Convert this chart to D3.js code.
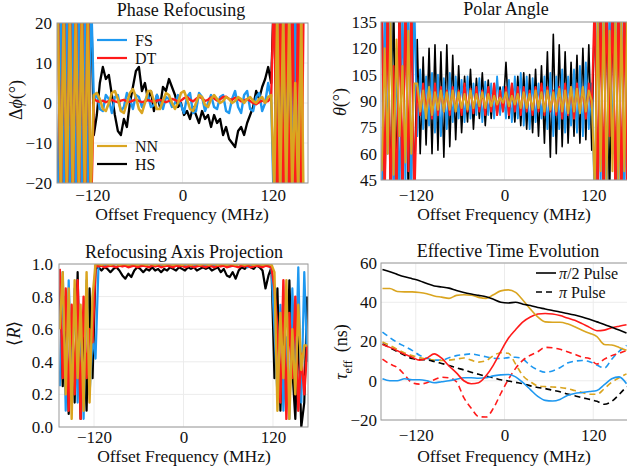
<!DOCTYPE html>
<html>
<head>
<meta charset="utf-8">
<script src="https://cdn.jsdelivr.net/npm/d3@7"></script>
<style>
  body { margin: 0; background: #fff; }
  text { font-family: "Liberation Serif", "Times New Roman", serif; fill: #111; }
  .tick text { font-family: "Liberation Serif", "Times New Roman", serif; font-size: 17px; fill: #111; }
</style>
</head>
<body>
<svg id="chart" width="627" height="474"></svg>
<script>
// sample grid (MHz), 4 MHz steps for the phase / angle / projection panels
const freq = d3.range(-166, 167, 4);
// coarser grid for the smooth effective-time curves
const freqTime = d3.range(-165, 166, 10);

const freqTicks = [-120, 0, 120];

// ---- Phase refocusing, delta phi (deg)
const fsPhase = [
  -30, 30, -30, 30, -30, 30, -30, 30, -30, 30, -30, 30,
  0.5, 2.5, -1.5, -2, 2, 1, -2.5, 1.5, 2, -2, -1, 2.5,
  1, -1.5, 2, 1.5, -1, 0.5, 2, -1, -0.5, 2, 0, -1.5,
  1.5, 1, -1, 0, 2, -0.5, -2.5, 1.5, 2.5, -2.5, -2, 2.5,
  1.5, -2, 0, 2, -1, -1.5, 1.5, 2, -2, -2.5, 1, 3,
  -1, -2.5, 2, 3, -1.5, -2, 1.5, 2.5, -2, 0, 5, 1,
  -30, 30, -30, 30, -30, 30, -30, 30, -30, 30, 40, 40
];
const dtPhase = [
  30, -30, 30, -30, 30, -30, 30, -30, 30, -30, 30, -30,
  1, 0.5, 0.3, 0.6, 0.2, 0.5, 0.8, 0.4, 0.2, 0.6, 0.8, 0.4,
  0.3, 0.6, 0.9, 0.5, 0.2, 0.4, 0.7, 0.5, 0.3, 0.6, 0.8, 0.5,
  0.2, 0.5, 1, 0.8, 0.3, 0.6, 1.2, 1.5, 0.8, 0.4, 1, 1.6,
  1.2, 0.5, 0.8, 1.4, 1.2, 0.6, 0.9, 1.5, 1.6, 1, 0.8, 1.3,
  1, 0.4, 0.6, 1, 0.5, 0, -0.3, 0.2, 0.6, 0.3, 0.5, 1.5,
  30, -30, 30, -30, 30, -30, 30, -30, 30, -30, 40, 40
];
const nnPhase = [
  22, -22, 22, -22, 22, -22, 22, -22, 22, -22, 22, -22,
  2, 2.5, 1, -1.5, -2, 0, 2.5, 3, 1, -2, -2.5, 0,
  2.5, 3.5, 1.5, -1.5, -2.5, 0, 3, 3, 0.5, -1.5, -1.5, 0.5,
  2.5, 2, 0, -1.5, 0, 2.5, 3, 1, -1.5, -2, 0, 2,
  1.5, -0.5, -1, 1, 2, 1, 0, 0.5, 1.5, 1, 0, 0.5,
  1.5, 1, 0, 1, 1.5, 0.5, 0, 1, 1.5, 0, 1.5, 2,
  -22, 22, -22, 22, -22, 22, -22, 5, -22, 22, -40, -40
];
const hsPhase = [
  -30, 30, -30, 30, -30, 30, -30, 30, -30, 30, -30, 30,
  -8, -3, 5, 9, 6, 7, 2, -3, -7, -8, -4, -6,
  0, 4, 8, 9, 3, 5, 1, 3, -2, 2, -1, 4,
  3, 6, 4, 2, -1, 0, -3, -2, -4, -1, -3, -5,
  -2, -4, -3, -6, -3, -5, -4, -8, -6, -9, -10, -11,
  -7, -6, -8, -5, -3, -1, 3, 1, 4, 6, 9, 5,
  30, -30, 30, -30, 30, -30, 30, -30, 40, 40, 40, 40
];

// ---- Polar angle, theta (deg)
const fsPolar = [
  30, 150, 60, 150, 30, 120, 30, 150, 40, 150, 30, 150,
  70, 108, 74, 104, 76, 106, 72, 105, 70, 103, 74, 106,
  78, 104, 80, 102, 78, 104, 80, 100, 82, 103, 78, 101,
  82, 100, 80, 104, 82, 98, 80, 102, 78, 104, 80, 106,
  76, 104, 74, 103, 78, 100, 80, 104, 74, 106, 70, 104,
  74, 108, 72, 104, 76, 108, 72, 110, 70, 112, 74, 100,
  30, 150, 40, 150, 30, 150, 60, 150, 30, 150, 30, 150
];
const dtPolar = [
  150, 30, 150, 30, 110, 30, 150, 30, 150, 50, 150, 30,
  98, 82, 100, 84, 96, 80, 100, 82, 98, 84, 96, 82,
  98, 84, 96, 82, 100, 84, 97, 83, 98, 84, 96, 82,
  98, 84, 100, 82, 96, 84, 98, 82, 100, 84, 98, 82,
  98, 84, 96, 82, 98, 84, 100, 82, 98, 84, 96, 82,
  98, 80, 100, 82, 98, 80, 100, 84, 98, 80, 100, 86,
  150, 30, 150, 30, 150, 70, 150, 30, 150, 30, 150, 30
];
const nnPolar = [
  50, 120, 60, 135, 48, 125, 70, 110, 55, 130, 60, 100,
  100, 84, 96, 80, 98, 82, 95, 85, 96, 84, 95, 85,
  96, 84, 95, 86, 94, 85, 96, 86, 94, 87, 95, 86,
  94, 87, 93, 88, 92, 89, 95, 87, 93, 88, 94, 86,
  95, 86, 94, 85, 96, 86, 95, 84, 96, 85, 95, 84,
  97, 84, 96, 83, 98, 84, 97, 83, 98, 84, 96, 90,
  40, 135, 50, 140, 45, 130, 50, 140, 45, 135, 50, 140
];
const hsPolar = [
  150, 30, 150, 30, 150, 40, 150, 30, 150, 30, 150, 30,
  125, 60, 115, 65, 120, 60, 122, 62, 118, 58, 122, 64,
  116, 68, 110, 72, 104, 78, 108, 74, 103, 80, 106, 76,
  102, 80, 100, 82, 98, 84, 112, 80, 100, 78, 104, 76,
  106, 74, 105, 72, 108, 70, 110, 66, 118, 58, 128, 60,
  122, 64, 118, 66, 112, 70, 116, 66, 120, 68, 122, 62,
  150, 30, 150, 30, 150, 30, 150, 30, 150, 30, 150, 30
];

// ---- Refocusing axis projection <R>
const fsProj = [
  0.25, 0.95, 0.1, 0.9, 0.3, 0.85, 0.15, 0.7, 0.05, 0.9, 0.2, 0.55,
  0.42, 0.99, 0.995, 0.99, 1, 0.99, 0.995, 1, 0.99, 0.995, 1, 0.99,
  0.995, 0.99, 1, 0.995, 0.99, 0.995, 1, 0.99, 0.995, 1, 0.995, 0.99,
  1, 0.995, 0.99, 0.995, 1, 0.99, 0.995, 1, 0.99, 0.985, 0.995, 1,
  0.99, 0.995, 1, 0.99, 0.995, 1, 0.99, 0.995, 1, 0.985, 0.99, 0.995,
  1, 0.99, 0.995, 0.98, 0.99, 1, 0.995, 0.99, 0.995, 0.99, 0.99, 0.97,
  0.6, 0.2, 0.75, 0.1, 0.55, 0.05, 0.85, 0.3, 0.98, 0.15, 0.95, 0.4
];
const dtProj = [
  0.97, 0.3, 0.85, 0.1, 0.75, 0.2, 0.9, 0.05, 0.8, 0.3, 0.6, 0.52,
  0.99, 0.985, 0.99, 0.98, 0.985, 0.99, 0.985, 0.98, 0.99, 0.985, 0.99, 0.98,
  0.985, 0.99, 0.98, 0.985, 0.99, 0.985, 0.98, 0.99, 0.985, 0.99, 0.98, 0.985,
  0.99, 0.985, 0.98, 0.99, 0.985, 0.99, 0.98, 0.985, 0.99, 0.98, 0.985, 0.99,
  0.985, 0.98, 0.99, 0.985, 0.98, 0.99, 0.985, 0.99, 0.98, 0.985, 0.99, 0.985,
  0.98, 0.99, 0.985, 0.99, 0.98, 0.985, 0.99, 0.985, 0.98, 0.99, 0.985, 0.98,
  0.85, 0.6, 0.15, 0.9, 0.05, 0.7, 0.3, 0.8, 0.1, 0.45, 0.2, 0.5
];
const nnProj = [
  0.6, 0.95, 0.2, 0.85, 0.05, 0.9, 0.3, 0.75, 0.1, 0.95, 0.15, 0.8,
  1, 1, 0.995, 1, 1, 0.995, 1, 1, 0.995, 1, 1, 0.995,
  1, 1, 0.995, 1, 1, 0.995, 1, 1, 0.995, 1, 1, 0.995,
  1, 1, 0.995, 1, 1, 0.995, 1, 1, 0.995, 1, 1, 0.995,
  1, 1, 0.995, 1, 1, 0.995, 1, 1, 0.995, 1, 1, 0.995,
  1, 1, 0.995, 1, 1, 0.995, 1, 1, 0.995, 1, 1, 0.995,
  0.95, 0.1, 0.7, 0.3, 0.9, 0.05, 0.6, 0.2, 0.75, 0.35, 0.5, 0.5
];
const hsProj = [
  0.9, 0.25, 0.8, 0.08, 0.7, 0.15, 0.95, 0.05, 0.6, 0.1, 0.85, 0.3,
  0.97, 0.98, 0.96, 0.98, 0.97, 0.95, 0.97, 0.98, 0.96, 0.93, 0.91, 0.94,
  0.92, 0.96, 0.98, 0.97, 0.95, 0.97, 0.96, 0.98, 0.96, 0.97, 0.95, 0.97,
  0.96, 0.98, 0.97, 0.96, 0.98, 0.97, 0.96, 0.98, 0.97, 0.98, 0.96, 0.97,
  0.98, 0.97, 0.98, 0.96, 0.97, 0.98, 0.95, 0.97, 0.93, 0.92, 0.95, 0.91,
  0.96, 0.98, 0.97, 0.99, 0.98, 0.97, 0.99, 0.98, 0.96, 0.85, 0.93, 0.98,
  0.3, 0.85, 0.1, 0.7, 0.2, 0.9, 0.35, 0.05, 0.6, 0, 0.15, 0.8
];

// ---- Effective time evolution, tau_eff (ns); "half" = pi/2 pulse, "full" = pi pulse
const hsHalf = [56.7, 55.5, 54.2, 53, 52, 51, 49.5, 48.3, 47.8, 47.2, 46, 45, 44.2, 43.5, 42.8, 41.5, 40,
  39.6, 40, 39, 38.3, 37.3, 36.6, 35.8, 35, 34.3, 33.5, 32.5, 31.3, 30, 28.7, 27.2, 25.8, 24.3];
const nnHalf = [47, 47, 45.5, 45.3, 45.3, 45, 44.3, 43.2, 42.6, 42, 43.5, 43.8, 43.6, 42.5, 42, 43.8, 45.8,
  46.3, 45, 41, 36.5, 32.5, 30, 29.8, 29.8, 29, 27.5, 25.7, 24.2, 22.5, 18.5, 18.2, 17, 15.5];
const dtHalf = [18.5, 17, 15.3, 13.5, 12, 10.5, 11.5, 13.7, 11.5, 7.5, 4, 0, -1.5, -1, 2.5, 8, 15,
  21.5, 26, 30, 32.5, 34, 34.3, 34, 33.2, 32, 30.8, 29.1, 27.2, 25.5, 25.8, 27, 27.8, 28.5];
const fsHalf = [1, 0, 0, 1, 0.5, 0.5, 0, -1, -0.5, 0, 0.8, 1.5, 1.5, 1.3, 1.5, 2.5, 3,
  3.2, 2, -1, -4.5, -8, -10, -10.3, -9.5, -7.5, -6.5, -6, -5.5, -5, -2, 1, 2, -1.5];
const fsFull = [24.8, 22, 19.5, 17.5, 15.5, 13, 11.5, 10.5, 10.5, 11.7, 12.8, 13.3, 13.7, 13, 12.2, 11.5, 11.3,
  11.8, 12, 11, 7.7, 5.5, 4.3, 5, 6.6, 9, 10, 10.3, 9.7, 8, 6.5, 11, 15, 18];
const nnFull = [19.7, 18, 16, 14.2, 12.8, 11.8, 11, 10.5, 10.3, 10.5, 11, 11.6, 10.5, 9.5, 10.2, 12.8, 14.3,
  14, 8.5, 2.5, -0.5, -2.6, -3, -3.2, -3.4, -4, -5, -6, -6.9, -6.9, -4, -0.8, 1.5, 3.5];
const hsFull = [18.8, 16.8, 14.8, 13, 11.3, 10.8, 10.6, 9.8, 8.8, 7.8, 6.6, 5.5, 4.3, 3.3, 2.3, 1.5, 0.5,
  -0.1, -0.8, -1.5, -2.6, -3.4, -4, -4.8, -5.6, -6.7, -7.6, -8.6, -9.5, -10.5, -12, -10.5, -7, -3];
const dtFull = [11, 8.5, 6.8, 3, -1, -1.7, -1, 0.5, 1.8, 1.5, -0.5, -8.6, -14, -18.3, -18.5, -14, -6.5,
  0.5, 6.3, 10.5, 13, 14.8, 17, 16.8, 16, 14.8, 13.5, 12, 11.3, 8.5, 11, 12.8, 14, 15.5];

const BLUE = '#1e98f0', RED = '#ff1a1a', GOLD = '#daa520', BLACK = '#000';

const svg = d3.select('#chart');

function panel(cfg) {
  const g = svg.append('g');
  const x = d3.scaleLinear().domain([-167, 167]).range([cfg.left, cfg.right]);
  const y = d3.scaleLinear().domain(cfg.yDomain).range([cfg.bottom, cfg.top]);

  const clipId = 'clip-' + cfg.id;
  svg.append('clipPath').attr('id', clipId)
    .append('rect')
    .attr('x', cfg.left).attr('y', cfg.top)
    .attr('width', cfg.right - cfg.left).attr('height', cfg.bottom - cfg.top);

  // grid
  g.selectAll('line.vg').data(freqTicks).enter().append('line')
    .attr('x1', d => x(d)).attr('x2', d => x(d))
    .attr('y1', cfg.top).attr('y2', cfg.bottom)
    .attr('stroke', '#ececec');
  g.selectAll('line.hg').data(cfg.yTicks).enter().append('line')
    .attr('y1', d => y(d)).attr('y2', d => y(d))
    .attr('x1', cfg.left).attr('x2', cfg.right)
    .attr('stroke', '#ececec');

  // data
  const plot = g.append('g').attr('clip-path', `url(#${clipId})`);
  cfg.series.forEach(s => {
    const line = d3.line()
      .x((d, i) => x(s.freq[i]))
      .y(d => y(d))
      .curve(s.curve || d3.curveLinear);
    plot.append('path')
      .datum(s.values)
      .attr('d', line)
      .attr('fill', 'none')
      .attr('stroke', s.color)
      .attr('stroke-width', s.width || 2)
      .attr('stroke-linejoin', 'round')
      .attr('stroke-dasharray', s.dash || null);
  });

  // box
  g.append('rect')
    .attr('x', cfg.left).attr('y', cfg.top)
    .attr('width', cfg.right - cfg.left).attr('height', cfg.bottom - cfg.top)
    .attr('fill', 'none').attr('stroke', '#9a9a9a');

  // axes
  g.append('g')
    .attr('transform', `translate(0,${cfg.bottom})`)
    .call(d3.axisBottom(x).tickValues(freqTicks).tickSize(0).tickPadding(cfg.xPad))
    .call(a => a.select('.domain').remove());
  g.append('g')
    .attr('transform', `translate(${cfg.left},0)`)
    .call(d3.axisLeft(y).tickValues(cfg.yTicks).tickFormat(cfg.yFormat).tickSize(0).tickPadding(cfg.yPad))
    .call(a => a.select('.domain').remove());

  // titles
  g.append('text')
    .attr('x', cfg.titleX).attr('y', cfg.titleY)
    .attr('text-anchor', 'middle').style('font-size', '18px')
    .text(cfg.title);
  g.append('text')
    .attr('x', cfg.xLabelX).attr('y', cfg.xLabelY)
    .attr('text-anchor', 'middle').style('font-size', '17.5px')
    .text('Offset Frequency (MHz)');

  const yl = g.append('text')
    .attr('transform', `translate(${cfg.yLabelPos[0]},${cfg.yLabelPos[1]}) rotate(-90)`)
    .attr('text-anchor', 'middle')
    .attr('dominant-baseline', 'central')
    .style('font-size', '18px');
  cfg.yLabel(yl);

  return { g, x, y };
}

// Phase refocusing
const p1 = panel({
  id: 'p1', left: 57, right: 308, top: 23, bottom: 183,
  yDomain: [-20, 20], yTicks: [-20, -10, 0, 10, 20], yFormat: d3.format('d'),
  xPad: 6, yPad: 5,
  title: 'Phase Refocusing', titleX: 181, titleY: 16,
  xLabelX: 182, xLabelY: 220,
  yLabelPos: [16, 100],
  yLabel: t => {
    t.append('tspan').text('Δ');
    t.append('tspan').style('font-style', 'italic').text('ϕ');
    t.append('tspan').text('(°)');
  },
  series: [
    { freq, values: hsPhase, color: BLACK, width: 2.3 },
    { freq, values: fsPhase, color: BLUE, width: 2.4 },
    { freq, values: dtPhase, color: RED, width: 2.4 },
    { freq, values: nnPhase, color: GOLD, width: 2.6 }
  ]
});

// legend for phase panel
const legend1 = [
  { name: 'FS', color: BLUE, y: 40 },
  { name: 'DT', color: RED, y: 58 },
  { name: 'NN', color: GOLD, y: 146 },
  { name: 'HS', color: BLACK, y: 164 }
];
legend1.forEach(d => {
  p1.g.append('line')
    .attr('x1', 97).attr('x2', 127).attr('y1', d.y).attr('y2', d.y)
    .attr('stroke', d.color).attr('stroke-width', 2.2);
  p1.g.append('text')
    .attr('x', 135).attr('y', d.y)
    .attr('dominant-baseline', 'central')
    .style('font-size', '16px')
    .text(d.name);
});

// Polar angle
panel({
  id: 'p2', left: 381, right: 628, top: 22, bottom: 180,
  yDomain: [45, 135], yTicks: [45, 60, 75, 90, 105, 120, 135], yFormat: d3.format('d'),
  xPad: 9, yPad: 4,
  title: 'Polar Angle', titleX: 506, titleY: 15,
  xLabelX: 504, xLabelY: 220,
  yLabelPos: [340, 102],
  yLabel: t => {
    t.append('tspan').style('font-style', 'italic').text('θ');
    t.append('tspan').text('(°)');
  },
  series: [
    { freq, values: hsPolar, color: BLACK, width: 1.6 },
    { freq, values: fsPolar, color: BLUE, width: 1.8 },
    { freq, values: dtPolar, color: RED },
    { freq, values: nnPolar, color: GOLD }
  ]
});

// Refocusing axis projection
panel({
  id: 'p3', left: 59, right: 308, top: 264, bottom: 427,
  yDomain: [0, 1], yTicks: [0, 0.2, 0.4, 0.6, 0.8, 1], yFormat: d3.format('.1f'),
  xPad: 4, yPad: 6,
  title: 'Refocusing Axis Projection', titleX: 184, titleY: 258,
  xLabelX: 184, xLabelY: 462,
  yLabelPos: [14, 333],
  yLabel: t => {
    t.append('tspan').text('⟨');
    t.append('tspan').style('font-style', 'italic').text('R');
    t.append('tspan').text('⟩');
  },
  series: [
    { freq, values: hsProj, color: BLACK, width: 2.2 },
    { freq, values: fsProj, color: BLUE, width: 2.2 },
    { freq, values: dtProj, color: RED, width: 2.4 },
    { freq, values: nnProj, color: GOLD, width: 2.4 }
  ]
});

// Effective time evolution
const p4 = panel({
  id: 'p4', left: 381, right: 628, top: 263, bottom: 420,
  yDomain: [-20, 60], yTicks: [-20, 0, 20, 40, 60], yFormat: d3.format('d'),
  xPad: 9, yPad: 4,
  title: 'Effective Time Evolution', titleX: 508, titleY: 257,
  xLabelX: 504, xLabelY: 462,
  yLabelPos: [341, 352],
  yLabel: t => {
    t.append('tspan').style('font-style', 'italic').text('τ');
    t.append('tspan').attr('baseline-shift', 'sub').style('font-size', '12px').text('eff');
    t.append('tspan').text('\u2009 (ns)');
  },
  series: [
    { freq: freqTime, values: fsFull, color: BLUE, dash: '6,4', width: 1.6, curve: d3.curveMonotoneX },
    { freq: freqTime, values: nnFull, color: GOLD, dash: '6,4', width: 1.6, curve: d3.curveMonotoneX },
    { freq: freqTime, values: hsFull, color: BLACK, dash: '6,4', width: 1.6, curve: d3.curveMonotoneX },
    { freq: freqTime, values: dtFull, color: RED, dash: '6,4', width: 1.6, curve: d3.curveMonotoneX },
    { freq: freqTime, values: fsHalf, color: BLUE, width: 1.6, curve: d3.curveMonotoneX },
    { freq: freqTime, values: dtHalf, color: RED, width: 1.6, curve: d3.curveMonotoneX },
    { freq: freqTime, values: nnHalf, color: GOLD, width: 1.6, curve: d3.curveMonotoneX },
    { freq: freqTime, values: hsHalf, color: BLACK, width: 1.6, curve: d3.curveMonotoneX }
  ]
});

// legend for pulse type
const legend4 = [
  { label: 'π', rest: '/2 Pulse', dash: null, y: 273 },
  { label: 'π', rest: ' Pulse', dash: '6,4', y: 292 }
];
legend4.forEach(d => {
  p4.g.append('line')
    .attr('x1', 536).attr('x2', 556).attr('y1', d.y).attr('y2', d.y)
    .attr('stroke', BLACK).attr('stroke-width', 1.6)
    .attr('stroke-dasharray', d.dash);
  const t = p4.g.append('text')
    .attr('x', 559).attr('y', d.y)
    .attr('dominant-baseline', 'central')
    .style('font-size', '16px');
  t.append('tspan').style('font-style', 'italic').text(d.label);
  t.append('tspan').text(d.rest);
});
</script>
</body>
</html>
